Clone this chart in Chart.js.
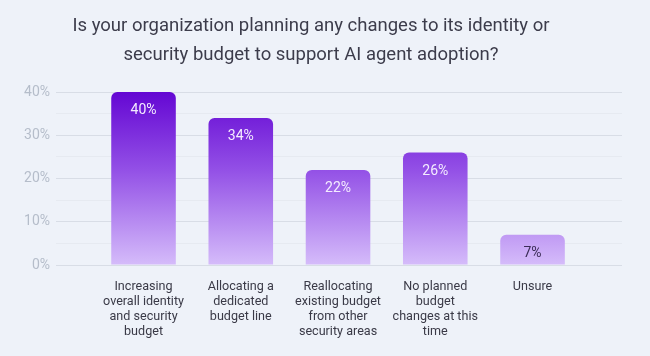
<!DOCTYPE html>
<html>
<head>
<meta charset="utf-8">
<script src="https://cdn.jsdelivr.net/npm/chart.js@4.4.1/dist/chart.umd.min.js"></script>
<style>
  html, body { margin: 0; padding: 0; background: #eef2f9; }
  #wrap { width: 650px; height: 356px; position: relative; }
</style>
</head>
<body>
<div id="wrap"><canvas id="c"></canvas></div>
<script>
const titleLines = [
  "Is your organization planning any changes to its identity or",
  "security budget to support AI agent adoption?"
];
const categories = [
  ["Increasing", "overall identity", "and security", "budget"],
  ["Allocating a", "dedicated", "budget line"],
  ["Reallocating", "existing budget", "from other", "security areas"],
  ["No planned", "budget", "changes at this", "time"],
  ["Unsure"]
];
const values = [40, 34, 22, 26, 7];
const yTicks = [0, 10, 20, 30, 40];

const barLabels = {
  id: 'barLabels',
  afterDatasetsDraw(chart) {
    const ctx = chart.ctx;
    const meta = chart.getDatasetMeta(0);
    ctx.save();
    ctx.font = '14px Roboto';
    ctx.textAlign = 'center';
    ctx.textBaseline = 'middle';
    meta.data.forEach((bar, i) => {
      const v = values[i];
      ctx.fillStyle = v < 10 ? '#3b2c57' : '#f4ecff';
      ctx.fillText(v + '%', bar.x, bar.y + 18.5);
    });
    ctx.restore();
  }
};

function barGradient(context) {
  const chart = context.chart;
  const area = chart.chartArea;
  if (!area) return '#9b5ee9';
  const g = chart.ctx.createLinearGradient(0, area.top, 0, area.bottom);
  g.addColorStop(0, '#6407d3');
  g.addColorStop(0.45, '#9350e6');
  g.addColorStop(1, '#d5bcfa');
  return g;
}

new Chart(document.getElementById('c'), {
  type: 'bar',
  data: {
    datasets: [{
      data: values.map((v, i) => ({ x: i, y: v })),
      backgroundColor: barGradient,
      borderRadius: 6,
      borderSkipped: 'bottom',
      categoryPercentage: 0.8,
      barPercentage: 0.83
    }]
  },
  plugins: [barLabels],
  options: {
    responsive: true,
    maintainAspectRatio: false,
    animation: false,
    layout: { padding: { left: 0, right: 28, top: 0, bottom: 0 } },
    plugins: {
      legend: { display: false },
      tooltip: { enabled: false },
      title: {
        display: true,
        text: titleLines,
        color: '#3c3c4b',
        font: { family: 'Roboto', size: 18.5, weight: 'normal', lineHeight: 1.57 },
        padding: { top: 12, bottom: 22 }
      }
    },
    scales: {
      x: {
        type: 'linear',
        offset: false,
        min: -0.9,
        max: 4.92,
        afterBuildTicks(scale) {
          scale.ticks = categories.map((c, i) => ({ value: i }));
        },
        afterFit(scale) { scale.height = 91; },
        grid: { display: false, offset: false },
        border: { display: false },
        ticks: {
          autoSkip: false,
          maxRotation: 0,
          padding: 6,
          color: '#3a3a47',
          font: { family: 'Roboto', size: 12.6, lineHeight: 1.19 },
          callback: (v) => categories[v]
        }
      },
      y: {
        min: 0,
        max: 40,
        afterBuildTicks(scale) {
          const t = [];
          for (let v = 0; v <= 40; v += 5) t.push({ value: v });
          scale.ticks = t;
        },
        afterFit(scale) { scale.width = 56; },
        border: { display: false },
        grid: {
          drawTicks: false,
          color: (c) => (c.tick && c.tick.value % 10 === 0) ? '#d8dde6' : '#e6eaf1',
          lineWidth: 1
        },
        ticks: {
          padding: 6,
          color: '#b5bdca',
          font: { family: 'Roboto', size: 14 },
          callback: (v) => yTicks.includes(v) ? v + '%' : ''
        }
      }
    }
  }
});
</script>
</body>
</html>
